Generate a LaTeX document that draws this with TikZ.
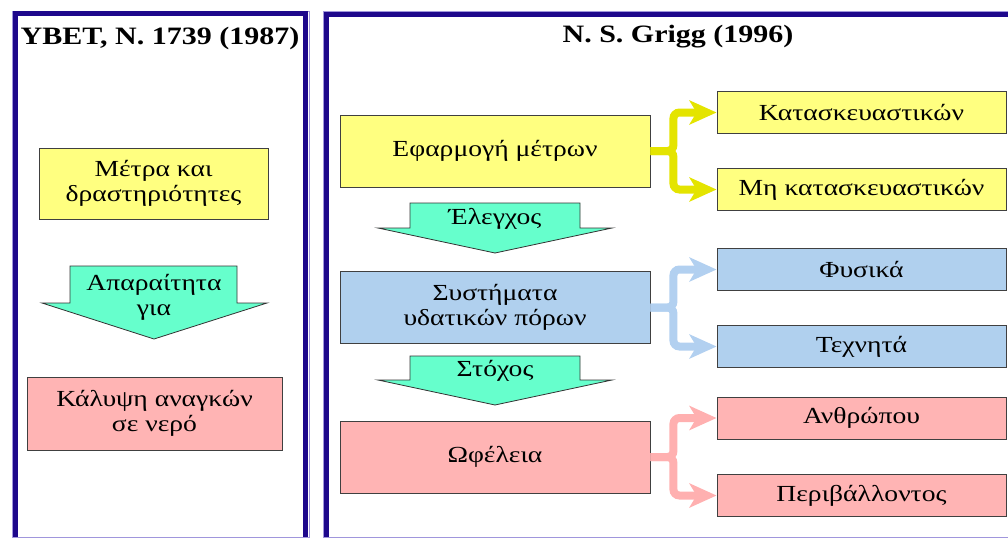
\documentclass[tikz,border=0pt]{standalone}
\usepackage{fontspec}
\setmainfont{Liberation Serif}[FakeStretch=1.2]
\usetikzlibrary{arrows.meta}
\definecolor{frameblue}{RGB}{30,8,140}
\definecolor{framelav}{RGB}{160,150,220}
\definecolor{boxyellow}{RGB}{255,255,128}
\definecolor{boxblue}{RGB}{176,208,238}
\definecolor{boxpink}{RGB}{255,180,180}
\definecolor{arraqua}{RGB}{102,255,204}
\definecolor{lnyellow}{RGB}{228,228,0}
\definecolor{lnblue}{RGB}{178,208,240}
\definecolor{lnpink}{RGB}{255,176,176}
\begin{document}
\begin{tikzpicture}[x=1pt, y=-1pt,
    box/.style={draw=black!75, line width=0.9pt, align=center,
                inner sep=2pt, font=\fontsize{23}{25}\selectfont},
    bigbox/.style={box, minimum width=310pt, minimum height=72pt},
    smallbox/.style={box, minimum width=289pt, minimum height=42pt},
    title/.style={font=\fontsize{25}{28}\selectfont\bfseries},
    downarr/.style={draw=black!80, line width=0.8pt, fill=arraqua},
    arrtext/.style={align=center, font=\fontsize{23}{25}\selectfont},
    conn/.style={line width=8pt, rounded corners=6pt,
                 -{Stealth[length=27pt, width=24pt, inset=7pt]}}
]
  \useasboundingbox (0,0) rectangle (1008,538);

  % Frames
  \draw[framelav, line width=1pt] (12,11) rectangle (309,537);
  \draw[frameblue, line width=5pt] (15.5,537) |- (305.5,13.5) -- (305.5,537);
  \draw[framelav, line width=1pt] (323.5,11) rectangle (1020,537);
  \draw[frameblue, line width=5pt] (326,537) |- (1020,14.5);

  % Left panel
  \node[title] (ybet) at (160,38) {YBET, N. 1739 (1987)};
  \node[box, fill=boxyellow, minimum width=229pt, minimum height=71pt]
       (metra) at (153.5,183.5) {Μέτρα και\\δραστηριότητες};
  \draw[downarr] (70,266) -- (237,266) -- (237,303) -- (267,303)
       -- (154,339) -- (42,303) -- (70,303) -- cycle;
  \node[arrtext] (aparait) at (154,297) {Απαραίτητα\\για};
  \node[box, fill=boxpink, minimum width=255pt, minimum height=73pt]
       (kalypsi) at (154.5,413.5) {Κάλυψη αναγκών\\σε νερό};

  % Right panel
  \node[title] (grigg) at (678,37) {N. S. Grigg (1996)};
  \node[bigbox, fill=boxyellow] (efarm) at (495,151) {Εφαρμογή μέτρων};
  \draw[downarr] (410,203) -- (580,203) -- (580,228) -- (612,228)
       -- (495,253) -- (378,228) -- (410,228) -- cycle;
  \node[arrtext] (elegxos) at (495,219) {Έλεγχος};
  \node[bigbox, fill=boxblue] (syst) at (495,307.5)
       {Συστήματα\\υδατικών πόρων};
  \draw[downarr] (410,356) -- (580,356) -- (580,380) -- (612,380)
       -- (495,405) -- (378,380) -- (410,380) -- cycle;
  \node[arrtext] (stoxos) at (495,371) {Στόχος};
  \node[bigbox, fill=boxpink] (ofel) at (495,457) {Ωφέλεια};

  % Right column
  \node[smallbox, fill=boxyellow] (kat) at (861.5,112.5) {Κατασκευαστικών};
  \node[smallbox, fill=boxyellow] (mhkat) at (861.5,189.5) {Μη κατασκευαστικών};
  \node[smallbox, fill=boxblue] (fys) at (861.5,269.5) {Φυσικά};
  \node[smallbox, fill=boxblue] (texn) at (861.5,346.5) {Τεχνητά};
  \node[smallbox, fill=boxpink] (anth) at (861.5,418) {Ανθρώπου};
  \node[smallbox, fill=boxpink] (periv) at (861.5,495.5) {Περιβάλλοντος};

  % Connectors
  \draw[conn, lnyellow] (efarm.east) -- ++(23,0) |- (kat.west);
  \draw[conn, lnyellow] (efarm.east) -- ++(23,0) |- (mhkat.west);
  \draw[conn, lnblue] (syst.east) -- ++(23,0) |- (fys.west);
  \draw[conn, lnblue] (syst.east) -- ++(23,0) |- (texn.west);
  \draw[conn, lnpink] (ofel.east) -- ++(23,0) |- (anth.west);
  \draw[conn, lnpink] (ofel.east) -- ++(23,0) |- (periv.west);
\end{tikzpicture}
\end{document}
